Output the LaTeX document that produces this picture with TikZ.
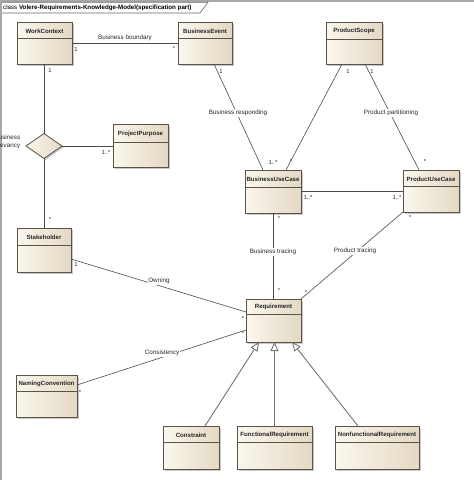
\documentclass[tikz,border=0pt]{standalone}
\usepackage{fontspec}
\setmainfont{Liberation Sans}
\usetikzlibrary{shapes.geometric,arrows.meta,shadows}
\definecolor{boxL}{HTML}{FBF7EE}
\definecolor{boxR}{HTML}{E3D8C3}
\definecolor{boxD}{HTML}{5A5448}
\definecolor{lineC}{HTML}{4A4A4A}
\definecolor{frameC}{HTML}{A8A8A8}
\tikzset{
  cls/.style={rectangle, draw=boxD, line width=0.8pt, left color=boxL, right color=boxR,
    inner sep=0pt, outer sep=0pt,
    drop shadow={shadow xshift=1.5pt, shadow yshift=-1.5pt, fill=black!35, opacity=0.6}},
  cname/.style={font=\bfseries\fontsize{6.1}{7}\selectfont, text=black!85, inner sep=0pt},
  sepline/.style={draw=boxD, line width=0.6pt},
  assoc/.style={draw=lineC, line width=0.6pt},
  gen/.style={draw=black!55, line width=0.9pt, -{Triangle[open, length=9pt, width=8pt, fill=white]}},
  lbl/.style={font=\fontsize{6.3}{7.5}\selectfont, text=black!85, inner sep=0.6pt},
  lblw/.style={lbl, fill=white},
  mult/.style={font=\fontsize{5.8}{6.5}\selectfont, text=black!85, inner sep=0pt},
}
\begin{document}
\begin{tikzpicture}[x=1pt,y=-1pt]
\useasboundingbox (0,0) rectangle (474,485);
\fill[white] (0,0) rectangle (474,485);
% frame
\fill[frameC] (0,0) rectangle (474,2.2);
\fill[frameC] (0,0) rectangle (2,480);
\draw[draw=black!60, line width=0.6pt, fill=white] (2,2.2) -- (208,2.2) -- (200,13) -- (2,13);
\node[font=\fontsize{6.2}{7}\selectfont, anchor=west, inner sep=0pt] (title) at (3,8)
  {class \textbf{Volere-Requirements-Knowledge-Model(specification part)}};

% classes
\node[cls, minimum width=55pt, minimum height=42pt] (wc) at (44.5,43) {};
\node[cname] (wct) at ([yshift=-9pt]wc.north) {WorkContext};
\draw[sepline] ([yshift=-16pt]wc.north west) -- ([yshift=-16pt]wc.north east);

\node[cls, minimum width=54pt, minimum height=42pt] (be) at (205,43) {};
\node[cname] (bet) at ([yshift=-9pt]be.north) {BusinessEvent};
\draw[sepline] ([yshift=-16pt]be.north west) -- ([yshift=-16pt]be.north east);

\node[cls, minimum width=56pt, minimum height=42pt] (ps) at (354,43) {};
\node[cname] (pst) at ([yshift=-9pt]ps.north) {ProductScope};
\draw[sepline] ([yshift=-17pt]ps.north west) -- ([yshift=-17pt]ps.north east);

\node[cls, minimum width=55pt, minimum height=43pt] (pp) at (140.5,145.5) {};
\node[cname] (ppt) at ([yshift=-9.5pt]pp.north) {ProjectPurpose};
\draw[sepline] ([yshift=-18pt]pp.north west) -- ([yshift=-18pt]pp.north east);

\node[diamond, draw=boxD, line width=0.8pt, left color=boxL, right color=boxR,
  minimum width=36pt, minimum height=25pt, inner sep=0pt, outer sep=0pt,
  drop shadow={shadow xshift=1.5pt, shadow yshift=-1.5pt, fill=black!35, opacity=0.6}] (dm) at (44,146) {};

\node[cls, minimum width=54pt, minimum height=44pt] (sh) at (44,250) {};
\node[cname] (sht) at ([yshift=-9pt]sh.north) {Stakeholder};
\draw[sepline] ([yshift=-17pt]sh.north west) -- ([yshift=-17pt]sh.north east);

\node[cls, minimum width=56pt, minimum height=43pt] (buc) at (273,191.5) {};
\node[cname] (buct) at ([yshift=-9pt]buc.north) {BusinessUseCase};
\draw[sepline] ([yshift=-17pt]buc.north west) -- ([yshift=-17pt]buc.north east);

\node[cls, minimum width=56pt, minimum height=42pt] (puc) at (431,191) {};
\node[cname] (puct) at ([yshift=-9pt]puc.north) {ProductUseCase};
\draw[sepline] ([yshift=-16pt]puc.north west) -- ([yshift=-16pt]puc.north east);

\node[cls, minimum width=55pt, minimum height=43pt] (req) at (273.5,320.5) {};
\node[cname] (reqt) at ([yshift=-8pt]req.north) {Requirement};
\draw[sepline] ([yshift=-15pt]req.north west) -- ([yshift=-15pt]req.north east);

\node[cls, minimum width=61pt, minimum height=42pt] (nc) at (46.5,396) {};
\node[cname] (nct) at ([yshift=-9pt]nc.north) {NamingConvention};
\draw[sepline] ([yshift=-16pt]nc.north west) -- ([yshift=-16pt]nc.north east);

\node[cls, minimum width=56pt, minimum height=43pt] (con) at (191,447.5) {};
\node[cname] (cont) at ([yshift=-9pt]con.north) {Constraint};
\draw[sepline] ([yshift=-16pt]con.north west) -- ([yshift=-16pt]con.north east);

\node[cls, minimum width=75pt, minimum height=43pt] (fr) at (274.5,447.5) {};
\node[cname] (frt) at ([yshift=-9pt]fr.north) {FunctionalRequirement};
\draw[sepline] ([yshift=-16pt]fr.north west) -- ([yshift=-16pt]fr.north east);

\node[cls, minimum width=84pt, minimum height=43pt] (nfr) at (377,447.5) {};
\node[cname] (nfrt) at ([yshift=-9pt]nfr.north) {NonfunctionalRequirement};
\draw[sepline] ([yshift=-16pt]nfr.north west) -- ([yshift=-16pt]nfr.north east);

% associations
\draw[assoc] (wc.east) -- (be.west);
\node[lbl] (l1) at (125,38) {Business boundary};
\node[mult] (m1) at (76,50) {1};
\node[mult] (m2) at (174,49) {*};

\draw[assoc] (wc.south -| dm.north) -- (dm.north);
\node[mult] (m3) at (50,71) {1};
\draw[assoc] (dm.south) -- (sh.north -| dm.south);
\node[mult] (m4) at (50,220) {*};
\draw[assoc] (dm.east) -- (pp.west |- dm.east);
\node[mult] (m5) at (106,153) {1..*};
\node[lbl, align=right, anchor=east] (l2) at (21,142) {Business\\relevancy};

\draw[assoc] ([xshift=9pt]be.south) -- ([xshift=-10pt]buc.north);
\node[lblw] (l3) at (238,113) {Business responding};
\node[mult] (m6) at (221,72) {1};
\node[mult] (m7) at (273,163) {1..*};

\draw[assoc] ([xshift=-12pt]ps.south) -- ([xshift=13pt]buc.north);
\node[mult] (m8) at (348,72) {1};
\node[mult] (m9) at (291,162) {*};

\draw[assoc] ([xshift=11pt]ps.south) -- ([xshift=-12pt]puc.north);
\node[mult] (m10) at (372,72) {1};
\node[mult] (m11) at (425,162) {*};
\node[lblw] (l4) at (391,113) {Product partitioning};

\draw[assoc] (buc.east) -- (puc.west |- buc.east);
\node[mult] (m12) at (308,198) {1..*};
\node[mult] (m13) at (397,198) {1..*};

\draw[assoc] (buc.south) -- (req.north -| buc.south);
\node[mult] (m14) at (279,219) {*};
\node[mult] (m15) at (279,291) {*};
\node[lblw] (l5) at (273,252) {Business tracing};

\draw[assoc] (puc.south west) -- (req.north east);
\node[mult] (m16) at (410,218) {*};
\node[mult] (m17) at (306,292) {*};
\node[lblw] (l6) at (355,251) {Product tracing};

\draw[assoc] ([yshift=-9pt]sh.east) -- ([yshift=8.5pt]req.west);
\node[mult] (m18) at (76,265) {1};
\node[mult] (m19) at (243,318) {*};
\node[lblw] (l7) at (159,281) {Owning};

\draw[assoc] ([yshift=11pt]nc.east) -- ([yshift=-9.5pt]req.west);
\node[mult] (m20) at (80,392) {*};
\node[mult] (m21) at (243,333) {*};
\node[lblw] (l8) at (162,353) {Consistency};

% generalizations
\draw[gen] ([xshift=14pt]con.north) -- ([xshift=-14.5pt]req.south);
\draw[gen] (fr.north) -- (fr.north |- req.south);
\draw[gen] ([xshift=-19pt]nfr.north) -- ([xshift=18.5pt]req.south);
\end{tikzpicture}
\end{document}
